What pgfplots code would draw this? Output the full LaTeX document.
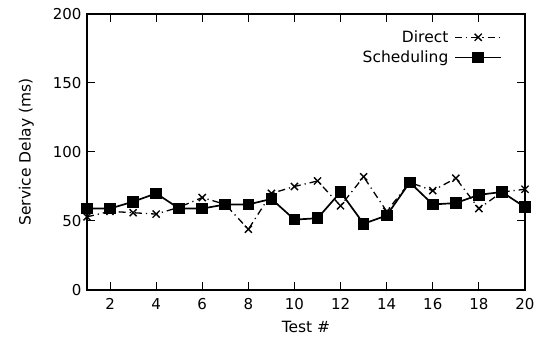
\documentclass[border=0pt]{standalone}
\usepackage{fontspec}
\setmainfont{DejaVu Sans}
\usepackage{pgfplots}
\pgfplotsset{compat=1.18}
\begin{document}
\begin{tikzpicture}[font=\fontsize{15.5pt}{18pt}\selectfont]
\begin{axis}[
  scale only axis, width=438pt, height=276pt,
  xmin=1, xmax=20, ymin=0, ymax=200,
  xtick={2,4,...,20}, ytick={0,50,...,200},
  tick align=inside, major tick length=8pt,
  xtick pos=both, ytick pos=both,
  /pgf/number format/assume math mode=true,
  ticklabel style={font=\fontsize{15pt}{18pt}\selectfont},
  xticklabel style={yshift=-5pt},
  yticklabel style={xshift=-2pt},
  label style={font=\fontsize{15.5pt}{18pt}\selectfont},
  xlabel={Test \#}, ylabel={Service Delay (ms)},
  xlabel shift=4pt, ylabel shift=12pt,
  axis line style={line width=1.4pt},
  every tick/.style={line width=1pt, black},
  legend style={draw=none, fill=none, at={(0.955,0.955)}, anchor=north east, row sep=3pt, column sep=4pt, font=\fontsize{15.5pt}{18pt}\selectfont},
  legend cell align=right, legend plot pos=right,
  legend image code/.code={\draw[mark repeat=2,mark phase=2] plot coordinates {(0pt,0pt)(23pt,0pt)(46pt,0pt)};},
]
\addplot[black, line width=1.3pt, dash pattern=on 7pt off 4pt on 1.2pt off 4pt, mark=x, mark size=5pt, mark options={solid, line width=1.4pt}] coordinates {
(1,53)(2,57)(3,56)(4,55)(5,60)(6,67)(7,62)(8,44)(9,70)(10,75)
(11,79)(12,61)(13,82)(14,57)(15,78)(16,72)(17,81)(18,59)(19,71)(20,73)};
\addlegendentry{Direct}
\addplot[black, line width=1.7pt, mark=square*, mark size=5pt, mark options={solid}] coordinates {
(1,59)(2,59)(3,64)(4,70)(5,59)(6,59)(7,62)(8,62)(9,66)(10,51)
(11,52)(12,71)(13,48)(14,54)(15,78)(16,62)(17,63)(18,69)(19,71)(20,60)};
\addlegendentry{Scheduling}
\end{axis}
\path (current axis.south west) ++(-87pt,-58pt) coordinate (BL);
\path (current axis.north east) ++(19pt,14pt) coordinate (TR);
\useasboundingbox (BL) rectangle (TR);
\end{tikzpicture}
\end{document}
